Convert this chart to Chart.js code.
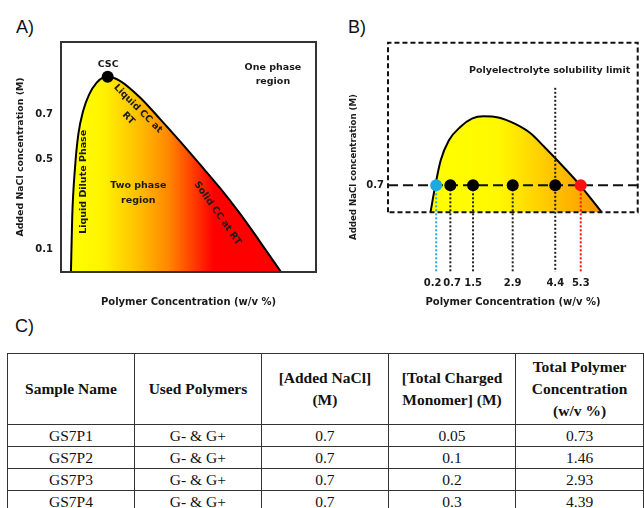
<!DOCTYPE html>
<html>
<head>
<meta charset="utf-8">
<script src="https://cdn.jsdelivr.net/npm/chart.js@4.4.0/dist/chart.umd.min.js"></script>
<style>
  html, body { margin: 0; padding: 0; background: #fff; }
  body { width: 644px; height: 508px; overflow: hidden; position: relative; }
  .panel-label { position: absolute; font-family: 'Liberation Sans', Arial, sans-serif; font-size: 18px; line-height: 18px; color: #111; }
  #chartA { position: absolute; left: 0; top: 0; }
  #chartB { position: absolute; left: 322px; top: 0; }
  #samples { position: absolute; left: 7px; top: 353px; border-collapse: collapse; table-layout: fixed;
    font-family: 'Liberation Serif', 'Times New Roman', serif; font-size: 15.5px; color: #111; }
  #samples col { width: 128.5px; }
  #samples th, #samples td { border: 1px solid #333; text-align: center; padding: 0; }
  #samples th { height: 70px; line-height: 22px; font-weight: bold; }
  #samples td { height: 21px; line-height: 21px; }
</style>
</head>
<body>
<div class="panel-label" style="left:16px;top:18px">A)</div>
<div class="panel-label" style="left:348px;top:18px">B)</div>
<div class="panel-label" style="left:15px;top:317px">C)</div>
<canvas id="chartA" width="322" height="312"></canvas>
<canvas id="chartB" width="322" height="312"></canvas>
<table id="samples"></table>

<script>
// ---- A) phase boundary (schematic, polymer conc. vs added NaCl in M) ----
const phaseA_x = [0.39, 0.44, 0.55, 0.68, 0.87, 1.11, 1.40, 1.66, 1.83, 2.31, 3.10, 3.88, 4.67, 5.45, 6.24, 7.02, 7.80, 8.63];
const phaseA_y = [0, 0.244, 0.463, 0.611, 0.715, 0.789, 0.840, 0.863, 0.866, 0.848, 0.774, 0.679, 0.579, 0.477, 0.372, 0.259, 0.135, 0];
const cscX = 1.83;
const cscY = 0.866;
const yTicksA = [0.1, 0.5, 0.7];

// ---- B) zoom on the 0.7 M salt line ----
const phaseB_x = [0, 0.17, 0.36, 0.65, 1.06, 1.46, 1.87, 2.39, 2.97, 3.55, 4.01, 4.47, 5.28, 6.04];
const phaseB_y = [0, 0.7, 1.35, 1.87, 2.22, 2.43, 2.49, 2.46, 2.30, 2.04, 1.70, 1.35, 0.70, 0];
const sampleConc = [0.2, 0.7, 1.5, 2.9, 4.4, 5.3];
const sampleSalt = 0.7;
const tickLabelsB = ['0.2', '0.7', '1.5', '2.9', '4.4', '5.3'];
const yTicksB = [0.7];
const solubilityX = 4.4;
const solubilityTop = 3.23;
const boxX = [-1.5, 7.31];
const boxY = [0, 4.4];

// ---- C) sample table ----
const tableHeaders = [['Sample Name'], ['Used Polymers'], ['[Added NaCl]', '(M)'], ['[Total Charged', 'Monomer] (M)'], ['Total Polymer', 'Concentration', '(w/v %)']];
const sampleNames = ['GS7P1', 'GS7P2', 'GS7P3', 'GS7P4'];
const usedPolymers = ['G- & G+', 'G- & G+', 'G- & G+', 'G- & G+'];
const addedNaCl = ['0.7', '0.7', '0.7', '0.7'];
const chargedMonomer = ['0.05', '0.1', '0.2', '0.3'];
const totalPolymer = ['0.73', '1.46', '2.93', '4.39'];

// ---- styles ----
const TEXT = '#1a1a1a';
const AXIS_FONT = { family: 'DejaVu Sans', weight: 'bold', size: 10 };
const NOTE_FONT = "bold 9.5px 'DejaVu Sans'";
const gradA = [[0.4, '#FFFF00'], [1.6, '#FFF400'], [3.0, '#FFC000'], [4.2, '#FF8800'], [5.2, '#FF3C00'], [6.0, '#FF0000']];
const gradB = [[0, '#FFFF00'], [2.4, '#FFF800'], [4.0, '#FFCC00'], [5.3, '#FFA800'], [6.0, '#F59400']];
const dotColors = ['#1FA9E1', '#000', '#000', '#000', '#000', '#FF1010'];

const pts = (xs, ys) => xs.map((x, i) => ({ x: x, y: ys[i] }));

function gradientFill(stops) {
    return (c) => {
        const chart = c.chart;
        if (!chart.chartArea) return null;
        const xs = chart.scales.x;
        const x0 = xs.getPixelForValue(stops[0][0]);
        const x1 = xs.getPixelForValue(stops[stops.length - 1][0]);
        const g = chart.ctx.createLinearGradient(x0, 0, x1, 0);
        stops.forEach(s => g.addColorStop((xs.getPixelForValue(s[0]) - x0) / (x1 - x0), s[1]));
        return g;
    };
}

// text notes + optional frame around the plot area
const notesPlugin = {
    id: 'notes',
    afterDatasetsDraw(chart, args, opts) {
        const { ctx, chartArea, scales } = chart;
        ctx.save();
        if (opts.frame) {
            ctx.strokeStyle = '#333';
            ctx.lineWidth = 2;
            ctx.strokeRect(chartArea.left, chartArea.top, chartArea.right - chartArea.left, chartArea.bottom - chartArea.top);
        }
        ctx.fillStyle = TEXT;
        ctx.font = NOTE_FONT;
        ctx.textAlign = 'center';
        ctx.textBaseline = 'middle';
        (opts.items || []).forEach(n => {
            const lh = n.lh || 13.5;
            ctx.save();
            ctx.translate(scales.x.getPixelForValue(n.x), scales.y.getPixelForValue(n.y));
            ctx.rotate((n.rot || 0) * Math.PI / 180);
            n.lines.forEach((t, i) => ctx.fillText(t, 0, (i - (n.lines.length - 1) / 2) * lh));
            ctx.restore();
        });
        ctx.restore();
    }
};

// Panel A
new Chart(document.getElementById('chartA'), {
    type: 'line',
    data: {
        datasets: [
            {
                data: [{ x: cscX, y: cscY }],
                showLine: false,
                pointRadius: 6,
                pointBackgroundColor: '#000',
                pointBorderWidth: 0,
                order: 0
            },
            {
                data: pts(phaseA_x, phaseA_y),
                borderColor: '#000',
                borderWidth: 2,
                pointRadius: 0,
                cubicInterpolationMode: 'monotone',
                fill: 'origin',
                backgroundColor: gradientFill(gradA),
                order: 1
            }
        ]
    },
    options: {
        responsive: false,
        animation: false,
        layout: { padding: { top: 42, right: 6, left: 0, bottom: 0 } },
        plugins: {
            legend: { display: false },
            tooltip: { enabled: false },
            notes: {
                frame: true,
                items: [
                    { lines: ['CSC'], x: 1.85, y: 0.922 },
                    { lines: ['One phase', 'region'], x: 8.31, y: 0.875 },
                    { lines: ['Liquid CC at', 'RT'], x: 2.83, y: 0.703, rot: 45 },
                    { lines: ['Liquid Dilute Phase'], x: 0.875, y: 0.40, rot: -90 },
                    { lines: ['Two phase', 'region'], x: 3.03, y: 0.348, lh: 15 },
                    { lines: ['Solid CC at RT'], x: 6.14, y: 0.26, rot: 55 }
                ]
            }
        },
        scales: {
            x: {
                type: 'linear', min: 0, max: 10,
                grid: { display: false, drawTicks: false },
                border: { display: false },
                ticks: { display: false },
                title: { display: true, text: 'Polymer Concentration (w/v %)', color: TEXT, font: AXIS_FONT, padding: { top: 0, bottom: 4 } },
                afterFit: (s) => { s.height = 40; }
            },
            y: {
                type: 'linear', min: 0, max: 1.02,
                afterBuildTicks: (s) => { s.ticks = yTicksA.map(v => ({ value: v })); },
                grid: { display: false, drawTicks: false },
                border: { display: false },
                ticks: { color: TEXT, font: AXIS_FONT, padding: 8, callback: (v) => v.toFixed(1) },
                title: { display: true, text: 'Added NaCl concentration (M)', color: TEXT, font: { family: 'DejaVu Sans', weight: 'bold', size: 9.4 }, padding: { top: 15, bottom: 0 } },
                afterFit: (s) => { s.width = 61; }
            }
        }
    },
    plugins: [notesPlugin]
});

// Panel B
const dropLines = sampleConc.map((x, i) => ({
    data: [{ x: x, y: x === solubilityX ? solubilityTop : sampleSalt }, { x: x, y: -1.55 }],
    borderColor: dotColors[i] === '#000' ? '#222' : dotColors[i],
    borderWidth: 2,
    borderDash: [2, 2],
    pointRadius: 0,
    order: 2
}));

new Chart(document.getElementById('chartB'), {
    type: 'line',
    data: {
        datasets: [
            {
                data: sampleConc.map(x => ({ x: x, y: sampleSalt })),
                showLine: false,
                pointRadius: 6,
                pointBackgroundColor: dotColors,
                pointBorderWidth: 0,
                order: 0
            },
            {
                data: [{ x: boxX[0], y: sampleSalt }, { x: boxX[1], y: sampleSalt }],
                borderColor: '#111',
                borderWidth: 2,
                borderDash: [10, 5],
                pointRadius: 0,
                clip: false,
                order: 1
            },
            ...dropLines,
            {
                data: [{ x: boxX[0], y: boxY[0] }, { x: boxX[0], y: boxY[1] }, { x: boxX[1], y: boxY[1] }, { x: boxX[1], y: boxY[0] }, { x: boxX[0], y: boxY[0] }],
                borderColor: '#111',
                borderWidth: 2,
                borderDash: [5, 3],
                pointRadius: 0,
                tension: 0,
                clip: false,
                order: 3
            },
            {
                data: pts(phaseB_x, phaseB_y),
                borderColor: '#000',
                borderWidth: 2,
                pointRadius: 0,
                cubicInterpolationMode: 'monotone',
                fill: 'origin',
                backgroundColor: gradientFill(gradB),
                order: 4
            }
        ]
    },
    options: {
        responsive: false,
        animation: false,
        layout: { padding: { top: 62, right: 2, left: 0, bottom: 0 } },
        plugins: {
            legend: { display: false },
            tooltip: { enabled: false },
            notes: {
                items: [{ lines: ['Polyelectrolyte solubility limit'], x: 4.20, y: 3.675 }]
            }
        },
        scales: {
            x: {
                type: 'linear', min: -1.5, max: 7.32,
                afterBuildTicks: (s) => { s.ticks = sampleConc.map(v => ({ value: v })); },
                grid: { display: false, drawTicks: false },
                border: { display: false },
                ticks: {
                    color: TEXT, font: AXIS_FONT, padding: 5, autoSkip: false, maxRotation: 0,
                    callback: (v, i) => i === 0 ? tickLabelsB[i] + '  ' : (i === 1 ? ' ' + tickLabelsB[i] : tickLabelsB[i])
                },
                title: { display: true, text: 'Polymer Concentration (w/v %)', color: TEXT, font: AXIS_FONT, padding: { top: 0, bottom: 4 } },
                afterFit: (s) => { s.height = 40; }
            },
            y: {
                type: 'linear', min: -1.55, max: 3.9,
                afterBuildTicks: (s) => { s.ticks = yTicksB.map(v => ({ value: v })); },
                grid: { display: false, drawTicks: false },
                border: { display: false },
                ticks: { color: TEXT, font: AXIS_FONT, padding: 4, callback: (v) => v.toFixed(1) },
                title: { display: true, text: 'Added NaCl concentration (M)', color: TEXT, font: { family: 'DejaVu Sans', weight: 'bold', size: 8.6 }, padding: { top: 27, bottom: 0 } },
                afterFit: (s) => { s.width = 66; }
            }
        }
    },
    plugins: [notesPlugin]
});

// Panel C table
function buildTable() {
    const table = document.getElementById('samples');
    let html = '<colgroup>' + tableHeaders.map(() => '<col>').join('') + '</colgroup>';
    html += '<tr>' + tableHeaders.map(h => '<th>' + h.join('<br>') + '</th>').join('') + '</tr>';
    sampleNames.forEach((name, i) => {
        const cells = [name, usedPolymers[i], addedNaCl[i], chargedMonomer[i], totalPolymer[i]];
        html += '<tr>' + cells.map(c => '<td>' + c.replace('&', '&amp;') + '</td>').join('') + '</tr>';
    });
    table.innerHTML = html;
}
buildTable();
</script>
</body>
</html>
